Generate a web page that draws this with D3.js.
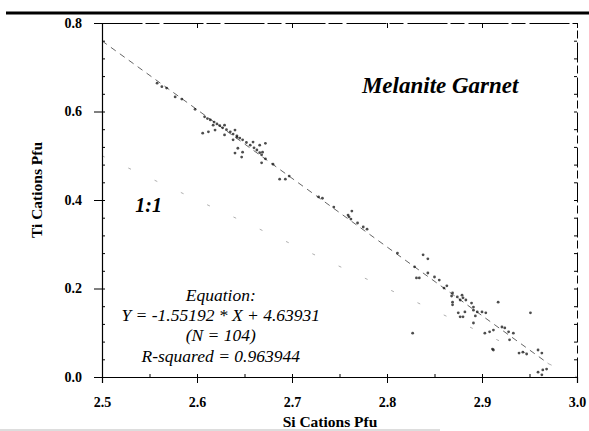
<!DOCTYPE html>
<html>
<head>
<meta charset="utf-8">
<script src="https://cdn.jsdelivr.net/npm/d3@7"></script>
<style>
  body { margin: 0; background: #fff; }
  svg { display: block; font-family: "Liberation Serif", "Times New Roman", serif; }
</style>
</head>
<body>
<div id="wrapper"></div>
<script>
// data
const siValues = [
  2.558, 2.563, 2.568, 2.577, 2.584, 2.598,
  2.606, 2.612, 2.619, 2.617, 2.629, 2.629, 2.640, 2.642, 2.638, 2.643, 2.640, 2.648, 2.647,
  2.659, 2.666, 2.672, 2.669, 2.668, 2.680, 2.687, 2.693, 2.697,
  2.608, 2.611, 2.614, 2.618, 2.621, 2.624, 2.627, 2.631, 2.635, 2.638, 2.642, 2.645,
  2.648, 2.652, 2.656, 2.660, 2.663, 2.666, 2.668, 2.672,
  2.728, 2.732, 2.744, 2.759, 2.762, 2.763, 2.760, 2.769, 2.775, 2.779,
  2.811, 2.838, 2.843, 2.829, 2.831, 2.834, 2.843, 2.850, 2.855, 2.863, 2.860,
  2.869, 2.868, 2.874, 2.879, 2.880, 2.869, 2.877, 2.883, 2.869, 2.889,
  2.875, 2.882, 2.880, 2.877, 2.891, 2.895, 2.900, 2.893, 2.904, 2.917,
  2.951, 2.891, 2.903, 2.908, 2.912, 2.921, 2.924, 2.928, 2.933, 2.929, 2.912,
  2.939, 2.943, 2.947, 2.959, 2.963, 2.959, 2.964, 2.968, 2.963, 2.827, 2.911, 2.891
]
const tiValues = [
  0.664, 0.656, 0.653, 0.633, 0.628, 0.605,
  0.551, 0.554, 0.558, 0.569, 0.569, 0.547, 0.558, 0.542, 0.536, 0.517, 0.506, 0.508, 0.497,
  0.531, 0.524, 0.528, 0.508, 0.484, 0.481, 0.447, 0.447, 0.454,
  0.588, 0.584, 0.581, 0.576, 0.572, 0.568, 0.563, 0.559, 0.554, 0.549, 0.545, 0.540,
  0.536, 0.530, 0.524, 0.518, 0.513, 0.507, 0.502, 0.493,
  0.407, 0.404, 0.384, 0.366, 0.357, 0.375, 0.362, 0.348, 0.339, 0.334,
  0.280, 0.276, 0.267, 0.249, 0.224, 0.224, 0.235, 0.226, 0.219, 0.206, 0.201,
  0.190, 0.183, 0.181, 0.185, 0.179, 0.169, 0.174, 0.174, 0.163, 0.167,
  0.145, 0.147, 0.136, 0.136, 0.151, 0.147, 0.147, 0.138, 0.145, 0.169,
  0.145, 0.122, 0.099, 0.102, 0.106, 0.113, 0.111, 0.102, 0.099, 0.084, 0.061,
  0.054, 0.056, 0.052, 0.061, 0.054, 0.011, 0.016, 0.018, 0.005, 0.099, 0.063, 0.158
]
const fitSlope = -1.55192
const fitIntercept = 4.63931
const fitRange = [2.5, 2.97]
const oneToOneSi = [2.5, 3.0]
const oneToOneTi = [0.5, 0.0]
const xTicks = [2.5, 2.6, 2.7, 2.8, 2.9, 3.0]
const yTicks = [0.0, 0.2, 0.4, 0.6, 0.8]
const equationLines = ["Equation:", "Y = -1.55192 * X + 4.63931", "(N = 104)", "R-squared = 0.963944"]

const dataset = siValues.map((d, i) => ({ si: d, ti: tiValues[i] }))

// dimensions
let dimensions = {
  width: 589,
  height: 431,
  margins: { top: 23, right: 12, bottom: 54, left: 102 },
}
dimensions.boundedWidth = dimensions.width - dimensions.margins.left - dimensions.margins.right
dimensions.boundedHeight = dimensions.height - dimensions.margins.top - dimensions.margins.bottom

const wrapper = d3.select("#wrapper")
  .append("svg")
  .attr("width", dimensions.width)
  .attr("height", dimensions.height)

// scanned page edge at top
wrapper.append("line")
  .attr("x1", 6).attr("x2", 589)
  .attr("y1", 13).attr("y2", 13)
  .attr("stroke", "#000")
  .attr("stroke-width", 3)
wrapper.append("line")
  .attr("x1", 0).attr("x2", 440)
  .attr("y1", 430).attr("y2", 430)
  .attr("stroke", "#ddd")
  .attr("stroke-width", 2)

const bounds = wrapper.append("g")
  .attr("transform", `translate(${dimensions.margins.left},${dimensions.margins.top})`)

// scales
const xScale = d3.scaleLinear()
  .domain([2.5, 3.0])
  .range([0, dimensions.boundedWidth])
const yScale = d3.scaleLinear()
  .domain([0, 0.8])
  .range([dimensions.boundedHeight, 0])

// lines
const fitLine = d3.line()
  .x(d => xScale(d))
  .y(d => yScale(fitSlope * d + fitIntercept))
bounds.append("path")
  .attr("d", fitLine(fitRange))
  .attr("fill", "none")
  .attr("stroke", "#666")
  .attr("stroke-width", 1)
  .attr("stroke-dasharray", "6,5")

bounds.append("path")
  .attr("d", d3.line()(oneToOneSi.map((d, i) => [xScale(d), yScale(oneToOneTi[i])])))
  .attr("fill", "none")
  .attr("stroke", "#999")
  .attr("stroke-width", 0.8)
  .attr("stroke-dasharray", "3,26")

// points
bounds.append("g")
  .selectAll("circle")
  .data(dataset)
  .join("circle")
  .attr("cx", d => xScale(d.si))
  .attr("cy", d => yScale(d.ti))
  .attr("r", 1.4)
  .attr("fill", "#111")
  .attr("opacity", 0.75)

// axes
const fmt = d3.format(".1f")
const xMinor = d3.range(2.5, 3.0001, 0.05)
const yMinor = d3.range(0, 0.8001, 0.04)

bounds.append("g")
  .attr("transform", `translate(0,${dimensions.boundedHeight})`)
  .call(d3.axisBottom(xScale).tickValues(xTicks).tickFormat(fmt).tickSize(6).tickPadding(14))
  .call(g => g.select(".domain").attr("stroke-width", 1.2))
bounds.append("g")
  .attr("transform", `translate(0,${dimensions.boundedHeight})`)
  .call(d3.axisTop(xScale).tickValues(xMinor).tickFormat("").tickSize(3))
  .call(g => g.select(".domain").remove())

bounds.append("g")
  .call(d3.axisLeft(yScale).tickValues(yTicks).tickFormat(fmt).tickSize(8).tickPadding(12))
  .call(g => g.select(".domain").attr("stroke-width", 1.2))
bounds.append("g")
  .call(d3.axisRight(yScale).tickValues(yMinor).tickFormat("").tickSize(3))
  .call(g => g.select(".domain").remove())

bounds.append("g")
  .call(d3.axisBottom(xScale).tickValues(xTicks).tickFormat("").tickSize(5).tickSizeOuter(0))
  .call(g => g.select(".domain").attr("stroke-dasharray", "40,3,14,4"))
bounds.append("g")
  .attr("transform", `translate(${dimensions.boundedWidth},0)`)
  .call(d3.axisLeft(yScale).tickValues(yMinor).tickFormat("").tickSize(3).tickSizeOuter(0))
  .call(g => g.select(".domain").attr("stroke-dasharray", "20,4,8,3"))

bounds.selectAll(".tick text")
  .attr("fill", "#000")
  .style("font-family", "Liberation Serif")
  .style("font-weight", "bold")
  .style("font-size", "14px")

// axis titles
wrapper.append("text")
  .attr("x", 330)
  .attr("y", 427)
  .attr("text-anchor", "middle")
  .style("font-weight", "bold")
  .style("font-size", "15.5px")
  .text("Si Cations Pfu")

wrapper.append("text")
  .attr("transform", "translate(42,190) rotate(-90)")
  .attr("text-anchor", "middle")
  .style("font-weight", "bold")
  .style("font-size", "15.5px")
  .text("Ti Cations Pfu")

// annotations
bounds.append("text")
  .attr("x", xScale(2.856))
  .attr("y", yScale(0.642))
  .attr("text-anchor", "middle")
  .style("font-family", "Liberation Serif")
  .style("font-weight", "bold")
  .style("font-style", "italic")
  .style("font-size", "23px")
  .text("Melanite Garnet")

bounds.append("text")
  .attr("x", xScale(2.535))
  .attr("y", yScale(0.373))
  .style("font-family", "Liberation Serif")
  .style("font-weight", "bold")
  .style("font-style", "italic")
  .style("font-size", "20px")
  .text("1:1")

bounds.append("g")
  .selectAll("text")
  .data(equationLines)
  .join("text")
  .attr("x", xScale(2.625))
  .attr("y", (d, i) => yScale(0.172) + i * 20.3)
  .attr("text-anchor", "middle")
  .style("font-style", "italic")
  .style("font-size", "17.5px")
  .text(d => d)
</script>
</body>
</html>
